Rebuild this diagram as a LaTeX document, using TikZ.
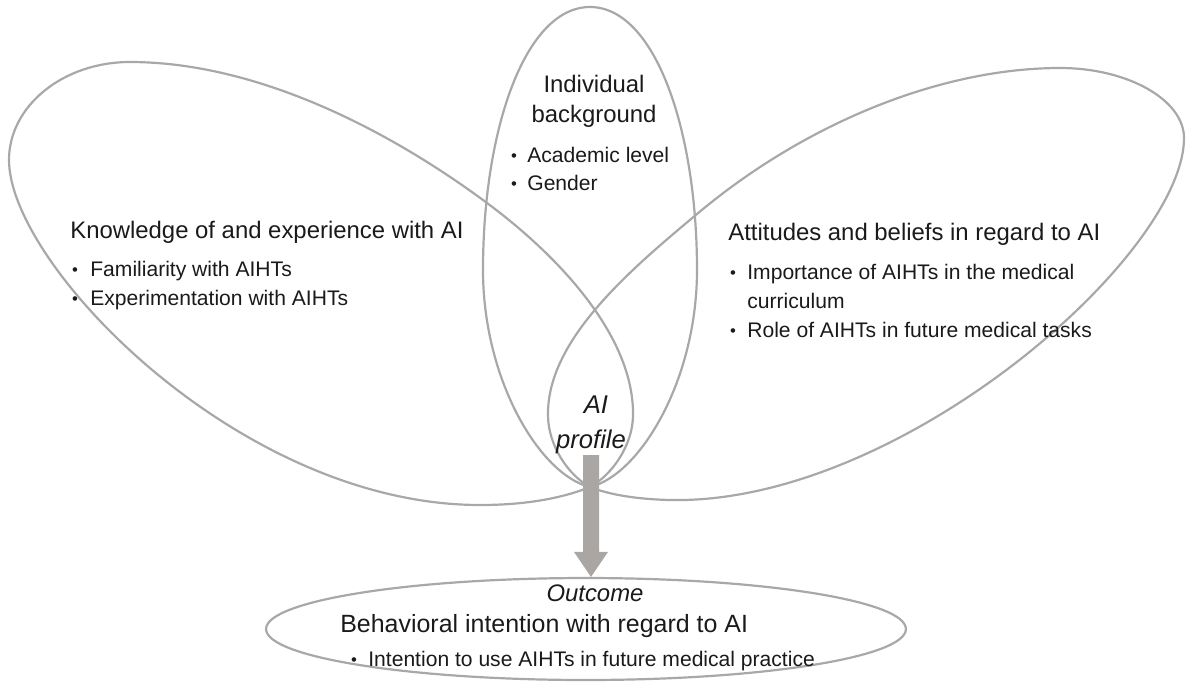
\documentclass[tikz,border=0pt]{standalone}
\usepackage{fontspec}
\setmainfont{Liberation Sans}
\usetikzlibrary{shapes.geometric,calc}
\definecolor{petalgray}{HTML}{A8A8A8}
\definecolor{arrowgray}{HTML}{AAA6A4}
\definecolor{txt}{HTML}{1A1A1A}
\newcommand{\mytitlefont}{\fontsize{13.6pt}{16pt}\selectfont}
\newcommand{\mybulletfont}{\fontsize{12pt}{14pt}\selectfont}
\newcommand{\mydotfont}{\fontsize{9.5pt}{11pt}\selectfont}
\newcommand{\myaifont}{\fontsize{14.6pt}{17pt}\selectfont\itshape}
\begin{document}
\begin{tikzpicture}[x=0.02cm,y=-0.02cm,
  petal/.style={draw=petalgray,line width=1.25pt,line join=round,line cap=round},
  ttl/.style={anchor=base west,inner sep=0pt,font=\mytitlefont,text=txt},
  ttlc/.style={anchor=base,inner sep=0pt,font=\mytitlefont,text=txt},
  blt/.style={anchor=base west,inner sep=0pt,font=\mybulletfont,text=txt},
  dot/.style={anchor=base,inner sep=0pt,font=\mydotfont,text=txt},
  aitext/.style={anchor=base,inner sep=0pt,font=\myaifont,text=txt},
  outcomebox/.style={ellipse,draw=petalgray,line width=1.25pt,inner sep=0pt,
    minimum width=12.8cm,minimum height=2.04cm}
]
\useasboundingbox (0,0) rectangle (1188,681);

% left petal
\draw[petal] (590,487) .. controls (612,475) and (633,445) .. (633,415)
 .. controls (634,340) and (565,260) .. (483,200)
 .. controls (378,123) and (250,62) .. (130,62)
 .. controls (63,62) and (9,106) .. (9,160)
 .. controls (9,265) and (240,505) .. (480,505)
 .. controls (530,505) and (565,497) .. (590,487);

% right petal
\draw[petal] (590,487) .. controls (568,475) and (548,445) .. (548,415)
 .. controls (547,340) and (630,270) .. (697,214)
 .. controls (804,124) and (940,68) .. (1060,68)
 .. controls (1128,68) and (1184,100) .. (1184,138)
 .. controls (1184,255) and (900,505) .. (670,500)
 .. controls (630,499) and (605,493) .. (590,487);

% middle petal
\draw[petal] (590,487) .. controls (640,475) and (697,380) .. (697,270)
 .. controls (697,130) and (655,7) .. (590,7)
 .. controls (525,7) and (483,130) .. (483,270)
 .. controls (483,380) and (540,475) .. (590,487);

% outcome ellipse
\node[outcomebox] (outcome) at (586,629) {};

% arrow
\coordinate (arrowtop) at (591,455);
\coordinate (arrowtip) at (arrowtop |- outcome.north);
\fill[arrowgray] ($(arrowtop)+(-8,0)$) -- ($(arrowtop)+(8,0)$)
  -- ($(arrowtip)+(8,-25)$) -- ($(arrowtip)+(17,-25)$) -- (arrowtip)
  -- ($(arrowtip)+(-17,-25)$) -- ($(arrowtip)+(-8,-25)$) -- cycle;

% individual background
\node[ttlc] (ind1) at (594,92) {Individual};
\node[ttlc] (ind2) at (594,122) {background};
\node[dot] (indd1) at (514,161) {•};
\node[blt] (indb1) at (527,162) {Academic level};
\node[dot] (indd2) at (514,189) {•};
\node[blt] (indb2) at (527,190) {Gender};

% knowledge
\node[ttl] (kn) at (70,238) {Knowledge of and experience with AI};
\node[dot] (knd1) at (75,275) {•};
\node[blt] (knb1) at (90,276) {Familiarity with AIHTs};
\node[dot] (knd2) at (75,304) {•};
\node[blt] (knb2) at (90,305) {Experimentation with AIHTs};

% attitudes
\node[ttl] (at) at (728,240) {Attitudes and beliefs in regard to AI};
\node[dot] (atd1) at (733,278) {•};
\node[blt] (atb1) at (747,279) {Importance of AIHTs in the medical};
\node[blt] (atb1b) at (747,308) {curriculum};
\node[dot] (atd2) at (733,336) {•};
\node[blt] (atb2) at (747,337) {Role of AIHTs in future medical tasks};

% AI profile
\node[aitext] (ai1) at (596,413) {AI};
\node[aitext] (ai2) at (591,448) {profile};

% outcome texts
\node[ttlc,font=\mytitlefont\itshape] (oc) at (595,601) {Outcome};
\node[ttl,font=\fontsize{14.2pt}{17pt}\selectfont] (oct) at (340,632) {Behavioral intention with regard to AI};
\node[dot] (ocd) at (354,665) {•};
\node[blt] (ocb) at (368,666) {Intention to use AIHTs in future medical practice};
\end{tikzpicture}
\end{document}
